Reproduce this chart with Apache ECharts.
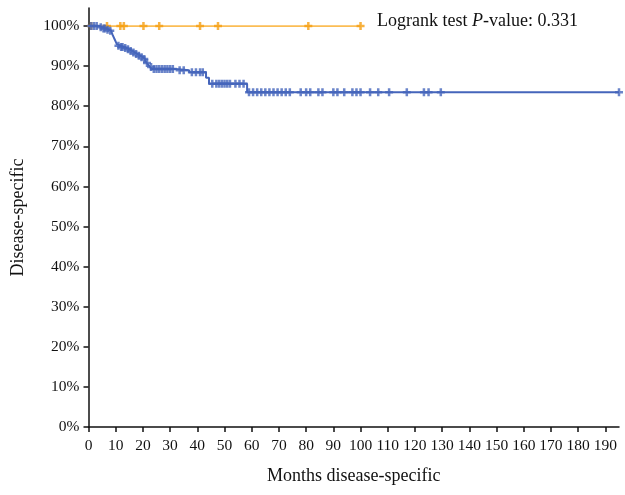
<!DOCTYPE html>
<html><head><meta charset="utf-8">
<script src="https://cdn.jsdelivr.net/npm/echarts@6/dist/echarts.min.js"></script>
<style>html,body{margin:0;padding:0;background:#fff}#c{width:625px;height:495px}</style>
</head><body><div id="c"></div>
<script>
// Blue group: Kaplan-Meier step points [month, survival %]
const blueStepTimes = [0, 3.8, 5, 6.5, 7.5, 8.3, 8.8, 9.2, 9.6, 10, 10.4, 10.9, 11.8, 13, 14, 15, 16, 17, 18, 19, 20, 20.8, 21.4, 22, 22.6, 23.2, 32, 37, 43.2, 44.3, 58.3, 195];
const blueStepSurv  = [100, 99.7, 99.4, 99.1, 98.8, 98.4, 97.9, 97.3, 96.7, 96.1, 95.5, 95.1, 94.8, 94.5, 94.2, 93.8, 93.4, 93.0, 92.6, 92.2, 91.8, 91.3, 90.8, 90.3, 89.8, 89.3, 89.0, 88.5, 87.1, 85.6, 83.5, 83.5];
const blueCensor = [1, 2, 3, 4.5, 5.5, 6, 7, 8, 11, 12, 12.5, 13.5, 14.5, 15.5, 16.5, 17.5, 18.5, 19.5, 20.5, 21.5, 23, 24, 25, 26, 27, 28, 29, 30, 31, 33.5, 35, 38, 39.5, 41, 42, 45.5, 47, 48, 49, 50, 51, 52, 54, 55.5, 57,
  59, 60.5, 62, 63.5, 65, 66.5, 68, 69.5, 71, 72.5, 74, 78, 80, 81.5, 84.5, 86, 90, 91.5, 94, 97, 98.5, 100, 103.5, 106.5, 110.5, 117, 123.3, 125, 129.5, 195];
// Orange group
const orangeStepTimes = [0, 100];
const orangeStepSurv  = [100, 100];
const orangeCensor = [1, 6.8, 11.7, 13, 20.2, 26, 41, 47.6, 80.8, 100];
const xTicks = [0,10,20,30,40,50,60,70,80,90,100,110,120,130,140,150,160,170,180,190];
const yTicks = [0,10,20,30,40,50,60,70,80,90,100];
const pText = 'Logrank test ';

function survAt(times, surv, t){ let s = surv[0]; for (let i=0;i<times.length;i++){ if (times[i] <= t) s = surv[i]; } return s; }
const blueLine = blueStepTimes.map((t,i)=>[t, blueStepSurv[i]]);
const orangeLine = orangeStepTimes.map((t,i)=>[t, orangeStepSurv[i]]);
const blueMarks = blueCensor.map(t=>[t, survAt(blueStepTimes, blueStepSurv, t)]);
const orangeMarks = orangeCensor.map(t=>[t, survAt(orangeStepTimes, orangeStepSurv, t)]);

const plus = 'path://M-1.1,-3.5 L1.1,-3.5 L1.1,-1.1 L3.5,-1.1 L3.5,1.1 L1.1,1.1 L1.1,3.5 L-1.1,3.5 L-1.1,1.1 L-3.5,1.1 L-3.5,-1.1 L-1.1,-1.1 Z';
const FONT = 'Liberation Serif';
const chart = echarts.init(document.getElementById('c'), null, {renderer:'canvas'});
chart.setOption({
  animation:false,
  backgroundColor:'#fff',
  grid:{left:88.5, right:6, top:8, bottom:68, containLabel:false, outerBoundsMode:'none'},
  xAxis:{type:'value', min:0, max:195, interval:10,
    name:'Months disease-specific', nameLocation:'middle', nameGap:40,
    nameTextStyle:{fontFamily:FONT, fontSize:18, color:'#111'},
    axisLine:{lineStyle:{color:'#111', width:1.5}},
    axisTick:{length:5, lineStyle:{color:'#111', width:1.5}, customValues:xTicks},
    axisLabel:{fontFamily:FONT, fontSize:15.5, color:'#111', margin:11, customValues:xTicks},
    splitLine:{show:false}},
  yAxis:{type:'value', min:0, max:104.5, interval:10,
    name:'Disease-specific', nameLocation:'middle', nameGap:61, nameRotate:90,
    nameTextStyle:{fontFamily:FONT, fontSize:18, color:'#111'},
    axisLine:{show:true, lineStyle:{color:'#111', width:1.5}},
    axisTick:{show:true, length:5, lineStyle:{color:'#111', width:1.5}, customValues:yTicks},
    axisLabel:{fontFamily:FONT, fontSize:15.5, color:'#111', margin:9, customValues:yTicks, formatter:v=>v+'%'},
    splitLine:{show:false}},
  graphic:[{type:'text', left:377, top:12, style:{
    text:'{a|'+pText+'}{b|P}{a|-value: 0.331}',
    rich:{a:{fontFamily:FONT, fontSize:18, fill:'#111'}, b:{fontFamily:FONT, fontSize:18, fontStyle:'italic', fill:'#111'}}}}],
  series:[
    {type:'line', data:orangeLine, step:'end', showSymbol:false, lineStyle:{color:'#fbbd55', width:1.8}, z:2},
    {type:'scatter', data:orangeMarks, symbol:plus, symbolSize:8, itemStyle:{color:'#f59f12'}, z:3},
    {type:'line', data:blueLine, step:'end', showSymbol:false, lineStyle:{color:'#4565bb', width:2}, z:4},
    {type:'scatter', data:blueMarks, symbol:plus, symbolSize:8, itemStyle:{color:'#4565bb'}, z:5}
  ]
});
</script></body></html>
